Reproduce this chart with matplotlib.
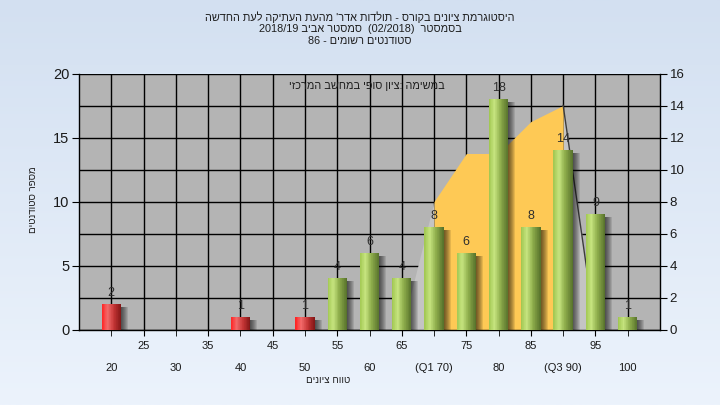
import numpy as np
import matplotlib
matplotlib.use('Agg')
import matplotlib.pyplot as plt
from matplotlib.colors import LinearSegmentedColormap

plt.rcParams['font.family'] = ['Liberation Sans', 'DejaVu Sans']

# ---------------- data ----------------
scores = [20, 25, 30, 35, 40, 45, 50, 55, 60, 65, 70, 75, 80, 85, 90, 95, 100]
tick_labels = ['20', '25', '30', '35', '40', '45', '50', '55', '60', '65',
               '(Q1 70)', '75', '80', '85', '(Q3 90)', '95', '100']
counts = [2, 0, 0, 0, 1, 0, 1, 4, 6, 4, 8, 6, 18, 8, 14, 9, 1]
curve = [0, 0, 0, 0, 0, 0, 0, 0, 0, 0, 8, 11, 11, 13, 14, 0, 0]
q1_score = 70
q3_score = 90
pass_score = 55

# visual-order (left-to-right) Hebrew strings
title_lines = ["השדחה תעל הקיתעה תעהמ 'רדא תודלות - סרוקב םינויצ תמרגוטסיה",
               "2018/19 ביבא רטסמס  (02/2018)  רטסמסב",
               "86 - םימושר םיטנדוטס"]
legend_text = "יזכרמה בשחמב יפוס ןויצ: המישמב"
ylabel_text = "םיטנדוטס רפסמ"
xlabel_text = "םינויצ חווט"

W, H = 720, 405
fig = plt.figure(figsize=(W / 100, H / 100), dpi=100)

# figure background gradient
bg = fig.add_axes([0, 0, 1, 1], zorder=-10)
grad = np.linspace(0, 1, 256).reshape(-1, 1)
bg_cmap = LinearSegmentedColormap.from_list('bg', ['#d3e0f1', '#ecf3fc'])
bg.imshow(grad, aspect='auto', cmap=bg_cmap, extent=[0, 1, 0, 1], origin='upper')
bg.set_axis_off()

L, R, T, B = 79, 660, 73.5, 329.5
ax = fig.add_axes([L / W, 1 - B / H, (R - L) / W, (B - T) / H])
ax2 = ax.twinx()

ax.set_facecolor('#b4b4b4')
n = len(scores)
x = np.arange(n)
ax.set_xlim(-1, n)
ax.set_ylim(0, 16)

# area (right scale)
iq1 = scores.index(q1_score)
iq3 = scores.index(q3_score)
cv = np.array(curve, dtype=float)
ax.fill_between(x[:iq1 + 1], 0, cv[:iq1 + 1], color='#c4c4c4', lw=0, zorder=1)
ax.fill_between(x[iq3:], 0, cv[iq3:], color='#c4c4c4', lw=0, zorder=1)
ax.fill_between(x[iq1:iq3 + 1], 0, cv[iq1:iq3 + 1], color='#fec955', lw=0, zorder=1.2)
ax.plot(x[iq3:iq3 + 2], cv[iq3:iq3 + 2], color='#3c3c3c', lw=1, zorder=1.5)

# grid / axes
ax.set_axisbelow(True)
ax.yaxis.tick_right()
ax.yaxis.set_label_position('right')
ax.set_yticks(range(0, 17, 2))
ax.set_xticks(x[1::2])
ax.set_xticklabels(tick_labels[1::2])
ax.set_xticks(x[0::2], minor=True)
ax.set_xticklabels(tick_labels[0::2], minor=True)
ax.grid(True, which='both', axis='x', color='black', lw=1)
ax.grid(True, which='major', axis='y', color='black', lw=1)
ax.tick_params(axis='x', which='both', length=4, color='black', labelsize=8, labelcolor='#1a1a1a')
ax.tick_params(axis='x', which='major', pad=4)
ax.tick_params(axis='x', which='minor', pad=20)
ax.tick_params(axis='y', length=5, labelsize=9.5, labelcolor='#1a1a1a', pad=2,
               left=False, labelleft=False, right=True, labelright=True)
for s in ax.spines.values():
    s.set_color('black')
    s.set_linewidth(1)
ax.spines['top'].set_visible(False)

# bars (left scale)
ax2.set_ylim(0, 20)
ax2.yaxis.tick_left()
ax2.yaxis.set_label_position('left')
ax2.set_yticks([0, 5, 10, 15, 20])
ax2.tick_params(axis='y', length=5, labelsize=10.5, labelcolor='#1a1a1a', pad=2,
                right=False, labelright=False, left=True, labelleft=True)
for s in ax2.spines.values():
    s.set_visible(False)

green = LinearSegmentedColormap.from_list('g', [(0, '#a2c853'), (0.28, '#c6e47f'),
                                                 (0.6, '#8fae4c'), (1, '#58732c')])
red = LinearSegmentedColormap.from_list('r', [(0, '#ff2424'), (0.3, '#f26a6a'),
                                               (0.65, '#c33434'), (1, '#861818')])
bw = 0.6
px = 1.0 / 32.3          # one pixel in x data units
py = 20.0 / (B - T)      # one pixel in left-y data units
N = 30
for i, (sc, c) in enumerate(zip(scores, counts)):
    if c <= 0:
        continue
    # shadow
    for k in range(1, 8):
        ax2.bar(i + k * px, c - 3 * py, bottom=0, width=bw, color='black',
                alpha=0.1, lw=0, zorder=2)
    cmap = red if sc < pass_score else green
    xs = i - bw / 2 + (np.arange(N) + 0.5) * bw / N
    cols = [cmap(t) for t in np.linspace(0, 1, N)]
    ax2.bar(xs, [c] * N, width=bw / N * 1.08, color=cols, lw=0, zorder=3)
    ax2.text(i, c + 5 * py, str(c), ha='center', va='bottom', fontsize=9,
             color='#2e2e2e', zorder=4)

ax.text(0.496, 0.951, legend_text, transform=ax.transAxes, ha='center', va='center',
        fontsize=7.8, color='#1e1e1e', zorder=5)

ys = [17, 29, 41]
for t, yy in zip(title_lines, ys):
    fig.text(0.5, 1 - yy / H, t, ha='center', va='center', fontsize=7.8, color='#1e1e1e')

fig.text(33 / W, 1 - 200 / H, ylabel_text, rotation=90, ha='center', va='center',
         fontsize=7, color='#1e1e1e')
fig.text(328 / W, 1 - 380 / H, xlabel_text, ha='center', va='center',
         fontsize=7, color='#1e1e1e')

fig.savefig('out.png', dpi=100)
